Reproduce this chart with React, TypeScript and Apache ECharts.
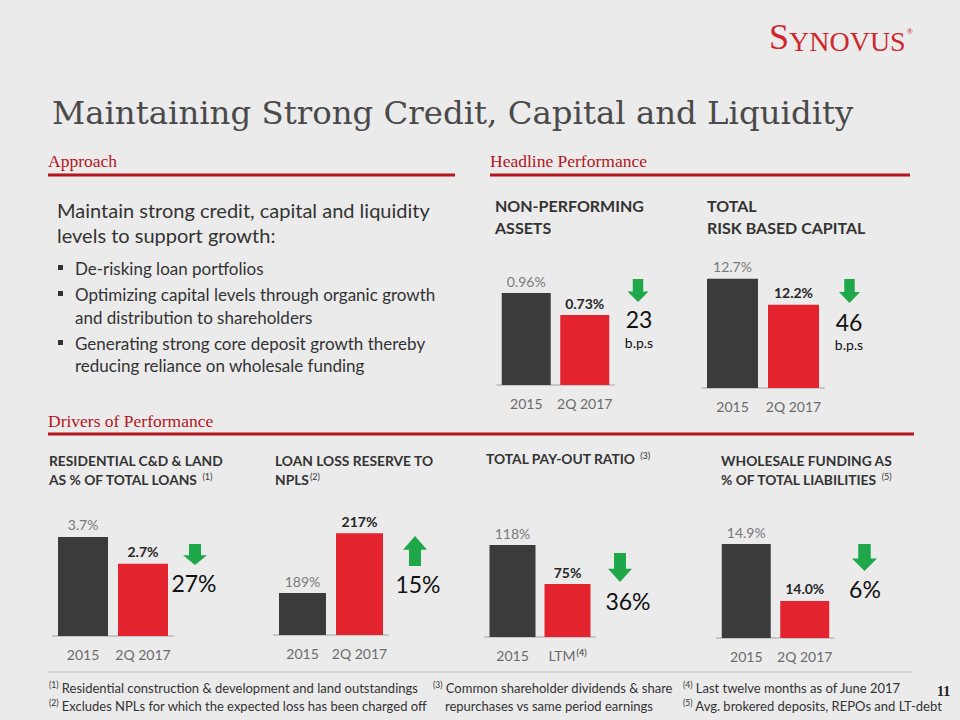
import React, { useEffect, useRef } from "react";
import * as echarts from "echarts";

// ---------- data ----------
const years = ["2015", "2Q 2017"];
const payoutCategories = ["2015", "LTM"];
const npaValues = [0.96, 0.73];
const capitalValues = [12.7, 12.2];
const resLandValues = [3.7, 2.7];
const reserveValues = [189, 217];
const payoutValues = [118, 75];
const wholesaleValues = [14.9, 14.0];
const changeValues = ["23", "46", "27%", "15%", "36%", "6%"];
const changeUnits = ["b.p.s", "b.p.s", "", "", "", ""];
const changeDirections = ["down", "down", "down", "up", "down", "down"];

const approachLines = [
  "Maintain strong credit, capital and liquidity",
  "levels to support growth:",
];
const bullets = [
  ["De-risking loan portfolios"],
  ["Optimizing capital levels through organic growth", "and distribution to shareholders"],
  ["Generating strong core deposit growth thereby", "reducing reliance on wholesale funding"],
];

// ---------- style ----------
const SANS = 'Lato, "Open Sans", sans-serif';
const SERIF = '"Liberation Serif", "DejaVu Serif", serif';
const TITLE_SERIF = '"DejaVu Serif", "Liberation Serif", serif';
const DARK = "#3b3b3b";
const RED = "#e3242f";
const GREEN = "#1fa84a";
const SECTION_RED = "#b3151d";

const panels = [
  { cats: years, values: npaValues, dec: 2, min: 0, max: 1.0, left: 497, width: 117, top: 289.2, height: 95.8, barWidth: 49 },
  { cats: years, values: capitalValues, dec: 1, min: 10.6, max: 12.8, left: 702, width: 122, top: 273.6, height: 114.4, barWidth: 51 },
  { cats: years, values: resLandValues, dec: 1, min: 0, max: 3.8, left: 53, width: 120, top: 534.2, height: 101.8, barWidth: 50 },
  { cats: years, values: reserveValues, dec: 0, min: 169.4, max: 218, left: 274, width: 114, top: 531, height: 104, barWidth: 47 },
  { cats: payoutCategories, values: payoutValues, dec: 0, min: 16.6, max: 120, left: 485, width: 110, top: 543.2, height: 93.8, barWidth: 46 },
  { cats: years, values: wholesaleValues, dec: 1, min: 13.415, max: 15.0, left: 717, width: 117, top: 537.7, height: 100.3, barWidth: 49 },
];

const arrowsLayout = [
  { cx: 638, y0: 279, h: 23, w: 21, tx: 639, ty: 319, uy: 342, size: 23 },
  { cx: 849.5, y0: 279, h: 24, w: 21, tx: 849, ty: 322, uy: 344, size: 23 },
  { cx: 195, y0: 544, h: 21, w: 24, tx: 194, ty: 583, uy: 0, size: 23 },
  { cx: 415, y0: 536, h: 30, w: 24, tx: 418, ty: 584, uy: 0, size: 23 },
  { cx: 620, y0: 553, h: 29, w: 24, tx: 628, ty: 601, uy: 0, size: 23 },
  { cx: 864.5, y0: 544, h: 27, w: 25, tx: 865, ty: 589, uy: 0, size: 23 },
];

function arrowPoints(cx: number, y0: number, h: number, w: number, up: boolean) {
  const sw = w * 0.25;
  const hh = h * 0.46;
  if (!up) {
    return [
      [cx - sw, y0], [cx + sw, y0], [cx + sw, y0 + h - hh], [cx + w / 2, y0 + h - hh],
      [cx, y0 + h], [cx - w / 2, y0 + h - hh], [cx - sw, y0 + h - hh],
    ];
  }
  return [
    [cx, y0], [cx + w / 2, y0 + hh], [cx + sw, y0 + hh], [cx + sw, y0 + h],
    [cx - sw, y0 + h], [cx - sw, y0 + hh], [cx - w / 2, y0 + hh],
  ];
}

const sup = { fontSize: 9, fontFamily: SANS, fill: "#333", verticalAlign: "top", padding: [0, 0, 6, 1] };

function txt(x: number, y: number, text: string, o: any = {}) {
  return {
    type: "text",
    x,
    y,
    silent: true,
    style: {
      text,
      fill: o.fill || "#333",
      fontSize: o.size || 14,
      fontFamily: o.family || SANS,
      fontWeight: o.weight || "normal",
      align: o.align || "left",
      verticalAlign: "middle",
      rich: o.rich,
    },
  };
}

function hline(x1: number, x2: number, y: number, color: string, width: number) {
  return { type: "line", silent: true, shape: { x1, y1: y, x2, y2: y }, style: { stroke: color, lineWidth: width } };
}

export default function App() {
  const ref = useRef<HTMLDivElement>(null);
  useEffect(() => {
    document.body.style.margin = "0";
    if (!ref.current) return;
    const chart = echarts.init(ref.current, undefined, { renderer: "svg" });

    const grid: any[] = [];
    const xAxis: any[] = [];
    const yAxis: any[] = [];
    const series: any[] = [];
    panels.forEach((p, i) => {
      grid.push({ left: p.left, top: p.top, width: p.width, height: p.height, containLabel: false });
      xAxis.push({
        gridIndex: i,
        type: "category",
        data: p.cats,
        axisLine: { lineStyle: { color: "#c6c6c6", width: 2 } },
        axisTick: { show: false },
        axisLabel: {
          color: "#6b6b6b",
          fontSize: 14,
          fontFamily: SANS,
          margin: 11,
          interval: 0,
          formatter: (v: string) => (v === "LTM" ? "LTM{s|(4)}" : v),
          rich: { s: { fontSize: 9, color: "#333", fontFamily: SANS, verticalAlign: "top", padding: [0, 0, 6, 1] } },
        },
      });
      yAxis.push({ gridIndex: i, type: "value", min: p.min, max: p.max, show: false, splitLine: { show: false } });
      series.push({
        type: "bar",
        xAxisIndex: i,
        yAxisIndex: i,
        barWidth: p.barWidth,
        data: p.values.map((v, j) => ({
          value: v,
          itemStyle: { color: j === 0 ? DARK : RED },
          label: {
            show: true,
            position: "top",
            distance: 5,
            fontFamily: SANS,
            fontSize: 14,
            color: j === 0 ? "#7a7a7a" : "#262626",
            fontWeight: j === 0 ? "normal" : "bold",
            formatter: () => v.toFixed(p.dec) + "%",
          },
        })),
      });
    });

    const graphic: any[] = [];
    // logo
    graphic.push(
      txt(769, 37, "{b|S}{s|YNOVUS}", {
        family: SERIF,
        fill: "#cf262c",
        rich: {
          b: { fontSize: 36, fontFamily: SERIF, fill: "#cf262c", verticalAlign: "bottom" },
          s: { fontSize: 28, fontFamily: SERIF, fill: "#cf262c", verticalAlign: "bottom" },
        },
      })
    );
    graphic.push(txt(907, 31, "®", { size: 7, fill: "#cf262c" }));
    // title
    graphic.push(txt(52, 113, "Maintaining Strong Credit, Capital and Liquidity", { family: TITLE_SERIF, size: 32.4, fill: "#4a4a4a" }));
    // section headers
    graphic.push(txt(48, 161, "Approach", { family: SERIF, size: 17.5, fill: SECTION_RED }));
    graphic.push(hline(48, 455, 175, SECTION_RED, 3));
    graphic.push(txt(490, 161, "Headline Performance", { family: SERIF, size: 17.5, fill: SECTION_RED }));
    graphic.push(hline(490, 910, 175, SECTION_RED, 3));
    graphic.push(txt(48, 421, "Drivers of Performance", { family: SERIF, size: 17.5, fill: SECTION_RED }));
    graphic.push(hline(48, 914, 434, SECTION_RED, 3));
    graphic.push(hline(48, 912, 672, "#bdbdbd", 1));

    // approach text
    graphic.push(txt(57, 210, approachLines[0], { size: 20, fill: "#333" }));
    graphic.push(txt(57, 235, approachLines[1], { size: 20, fill: "#333" }));
    const bulletY = [[268], [294, 317], [343, 365]];
    bullets.forEach((b, i) => {
      graphic.push({ type: "rect", silent: true, shape: { x: 58, y: bulletY[i][0] - 3, width: 5, height: 5 }, style: { fill: "#333" } });
      b.forEach((line, k) => graphic.push(txt(75, bulletY[i][k], line, { size: 17, fill: "#333" })));
    });

    // chart titles
    const tb = { size: 16, weight: "bold", fill: "#333" };
    graphic.push(txt(495, 205, "NON-PERFORMING", tb));
    graphic.push(txt(495, 227, "ASSETS", tb));
    graphic.push(txt(707, 205, "TOTAL", tb));
    graphic.push(txt(707, 227, "RISK BASED CAPITAL", tb));
    const tb2 = { size: 13.8, weight: "bold", fill: "#333", rich: { s: sup } };
    graphic.push(txt(49, 460, "RESIDENTIAL C&D & LAND", tb2));
    graphic.push(txt(49, 479, "AS % OF TOTAL LOANS {s|(1)}", tb2));
    graphic.push(txt(275, 460, "LOAN LOSS RESERVE TO", tb2));
    graphic.push(txt(275, 479, "NPLS{s|(2)}", tb2));
    graphic.push(txt(486, 458, "TOTAL PAY-OUT RATIO {s|(3)}", tb2));
    graphic.push(txt(721, 460, "WHOLESALE FUNDING AS", tb2));
    graphic.push(txt(721, 479, "% OF TOTAL LIABILITIES {s|(5)}", tb2));

    // arrows & change labels
    arrowsLayout.forEach((a, i) => {
      graphic.push({
        type: "polygon",
        silent: true,
        shape: { points: arrowPoints(a.cx, a.y0, a.h, a.w, changeDirections[i] === "up") },
        style: { fill: GREEN },
      });
      graphic.push(txt(a.tx, a.ty, changeValues[i], { size: a.size, fill: "#111", align: "center" }));
      if (changeUnits[i]) graphic.push(txt(a.tx, a.uy, changeUnits[i], { size: 14, fill: "#111", align: "center" }));
    });

    // footnotes
    const fn = { size: 13, fill: "#333", rich: { s: { ...sup, fontSize: 8.5 } } };
    graphic.push(txt(48, 688, "{s|(1)} Residential construction & development and land outstandings", fn));
    graphic.push(txt(48, 706, "{s|(2)} Excludes NPLs for which the expected loss has been charged off", fn));
    graphic.push(txt(432, 688, "{s|(3)} Common shareholder dividends & share", fn));
    graphic.push(txt(445, 706, "repurchases vs same period earnings", fn));
    graphic.push(txt(682, 688, "{s|(4)} Last twelve months as of June 2017", fn));
    graphic.push(txt(682, 706, "{s|(5)} Avg. brokered deposits, REPOs and LT-debt", fn));
    graphic.push(txt(937, 691, "11", { family: SERIF, size: 14, weight: "bold", fill: "#222" }));

    chart.setOption({
      animation: false,
      backgroundColor: "#ebebeb",
      grid,
      xAxis,
      yAxis,
      series,
      graphic,
    });
    return () => chart.dispose();
  }, []);
  return <div ref={ref} style={{ width: 960, height: 720 }} />;
}
